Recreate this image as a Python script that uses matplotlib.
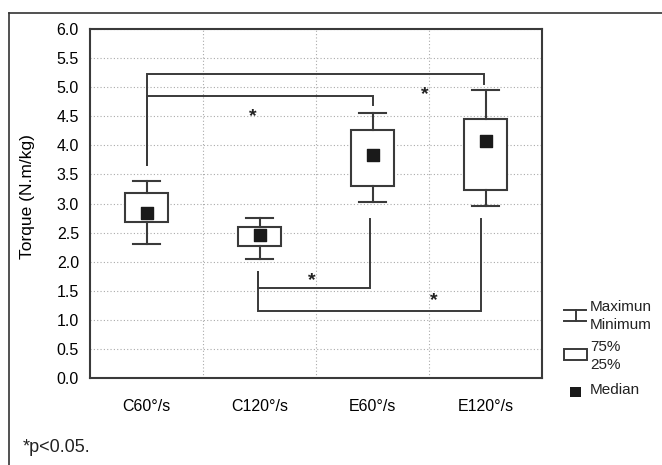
import matplotlib
matplotlib.use("Agg")
import matplotlib.pyplot as plt
from matplotlib.lines import Line2D
from matplotlib.patches import Rectangle

plt.rcParams["font.family"] = ["Liberation Sans", "DejaVu Sans"]

groups = ["C60°/s", "C120°/s", "E60°/s", "E120°/s"]
minimum = [2.30, 2.05, 3.03, 2.96]
q25 = [2.69, 2.27, 3.30, 3.23]
median = [2.83, 2.46, 3.83, 4.07]
q75 = [3.18, 2.59, 4.26, 4.45]
maximum = [3.39, 2.745, 4.55, 4.95]

# significance brackets: horizontal level, ends of the two legs
bracket_x1 = [1.0, 1.0, 1.99, 1.99]
bracket_x2 = [3.99, 3.0, 2.98, 3.96]
bracket_level = [5.23, 4.85, 1.54, 1.15]
bracket_left_end = [3.66, 3.66, 1.83, 1.83]
bracket_right_end = [5.06, 4.69, 2.73, 2.73]
star_x = [3.46, 1.94, 2.46, 3.54]
star_y = [4.97, 4.59, 1.77, 1.43]

W, H = 662, 465
line_col = "#3a3a3a"


def px(x, y):
    # pixel position (from top-left) to figure fraction
    return x / W, 1 - y / H


fig = plt.figure(figsize=(W / 100, H / 100), dpi=100)
ax = fig.add_axes([90 / W, 1 - 378 / H, (542 - 90) / W, (378 - 29) / H])

positions = list(range(1, len(groups) + 1))
stats = [
    dict(whislo=lo, q1=a, med=m, q3=b, whishi=hi, label=g)
    for g, lo, a, m, b, hi in zip(groups, minimum, q25, median, q75, maximum)
]
ax.bxp(
    stats,
    positions=positions,
    widths=0.38,
    capwidths=0.24,
    showfliers=False,
    patch_artist=True,
    boxprops=dict(facecolor="white", edgecolor=line_col, linewidth=1.5),
    whiskerprops=dict(color=line_col, linewidth=1.5),
    capprops=dict(color=line_col, linewidth=1.5),
    medianprops=dict(linewidth=0),
    zorder=3,
)
ax.scatter(positions, median, marker="s", s=80, color="#1a1a1a", zorder=4)

for x1, x2, lvl, e1, e2 in zip(bracket_x1, bracket_x2, bracket_level,
                               bracket_left_end, bracket_right_end):
    ax.plot([x1, x1, x2, x2], [e1, lvl, lvl, e2], color=line_col, lw=1.4,
            solid_joinstyle="miter", zorder=2)
for sx, sy in zip(star_x, star_y):
    ax.text(sx, sy - 0.1, "*", ha="center", va="center", fontsize=14,
            fontweight="bold", color="#222222", zorder=3)

ax.set_xlim(0.5, 4.5)
ax.set_ylim(0, 6)
ax.set_xticks(positions)
ax.set_xticklabels(groups, fontsize=11.5)
ax.set_xticks([1.5, 2.5, 3.5], minor=True)
ax.set_yticks([i * 0.5 for i in range(13)])
ax.set_yticklabels([f"{i * 0.5:.1f}" for i in range(13)], fontsize=11.5)
ax.tick_params(axis="both", which="both", length=0)
ax.tick_params(axis="x", pad=15)
ax.tick_params(axis="y", pad=8)
ax.grid(axis="y", which="major", color="#aaaaaa", lw=0.8, linestyle=(0, (1, 2)))
ax.grid(axis="x", which="minor", color="#aaaaaa", lw=0.8, linestyle=(0, (1, 2)))
ax.set_axisbelow(True)
for s in ax.spines.values():
    s.set_color(line_col)
    s.set_linewidth(1.5)
ax.set_ylabel("Torque (N.m/kg)", fontsize=12.5)
ax.yaxis.set_label_coords(-0.122, 0.52)

# outer frame
fig.add_artist(Line2D([px(9, 13)[0], px(9, 465)[0]], [px(9, 13)[1], px(9, 465)[1]],
                      color="#333333", lw=1.2))
fig.add_artist(Line2D([px(9, 13)[0], 1], [px(9, 13)[1], px(9, 13)[1]],
                      color="#333333", lw=1.2))

# legend
for yy in (310, 321):
    fig.add_artist(Line2D([px(564, 0)[0], px(586, 0)[0]], [px(0, yy)[1]] * 2,
                          color=line_col, lw=1.4))
fig.add_artist(Line2D([px(576, 0)[0]] * 2, [px(0, 310)[1], px(0, 321)[1]],
                      color=line_col, lw=1.4))
fig.add_artist(Rectangle(px(564, 360), 23 / W, 11 / H, transform=fig.transFigure,
                         facecolor="white", edgecolor=line_col, lw=1.4))
fig.add_artist(Rectangle(px(570, 397), 11 / W, 10 / H, transform=fig.transFigure,
                         facecolor="#1a1a1a", edgecolor="none"))
for label, yy in [("Maximun", 307), ("Minimum", 325), ("75%", 347),
                  ("25%", 365), ("Median", 390)]:
    fig.text(*px(590, yy), label, ha="left", va="center", fontsize=11,
             color="#222222")

fig.text(*px(23, 447), "*p<0.05.", ha="left", va="center", fontsize=13,
         family=["Liberation Sans Narrow", "Liberation Sans", "DejaVu Sans"],
         color="#222222")

fig.savefig("out.png", dpi=100)
